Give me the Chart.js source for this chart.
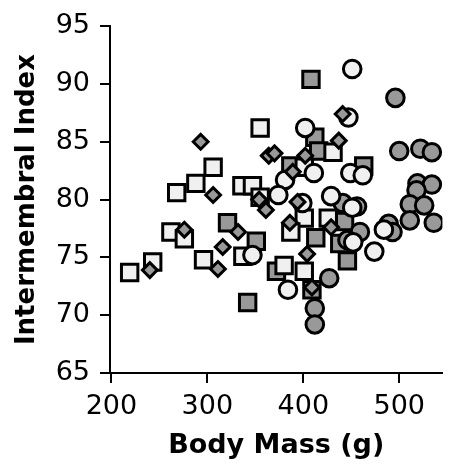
<!DOCTYPE html>
<html>
<head>
<meta charset="utf-8">
<style>
  html, body { margin: 0; padding: 0; background: #fff; }
</style>
</head>
<body>
<canvas id="myChart" width="457" height="468"></canvas>
<script src="https://cdn.jsdelivr.net/npm/chart.js@4"></script>
<script>
// tick labels
const xTicks = [200, 300, 400, 500];
const yTicks = [65, 70, 75, 80, 85, 90, 95];

// light squares
const lightSquareX = [219, 243, 262, 276, 296, 268, 288, 306, 336, 347, 355, 355, 337, 380, 401, 401, 387, 426, 431, 401];
const lightSquareY = [73.7, 74.6, 77.2, 76.6, 74.8, 80.6, 81.4, 82.8, 81.2, 81.2, 86.2, 80.2, 75.1, 74.3, 73.8, 78.4, 77.2, 78.4, 84.1, 82.8];

// dark squares
const darkSquareX = [408, 412, 416, 387, 321, 351, 342, 413, 409, 446, 438, 443, 463, 372];
const darkSquareY = [90.4, 85.4, 84.2, 82.9, 78.0, 76.4, 71.1, 76.7, 72.2, 74.7, 76.2, 78.1, 82.9, 73.8];

// dark diamonds
const diamondX = [293, 306, 240, 276, 311, 316, 332, 361, 354, 386, 404, 409, 364, 370, 402, 389, 394, 441, 437, 429];
const diamondY = [85.0, 80.4, 73.9, 77.4, 74.0, 75.9, 77.2, 79.1, 80.0, 78.0, 75.3, 72.4, 83.8, 84.0, 83.8, 82.4, 79.8, 87.4, 85.1, 77.6];

// light circles
const lightCircleX = [451, 447, 402, 411, 381, 374, 399, 429, 449, 462, 451, 452, 474, 484, 384, 347];
const lightCircleY = [91.3, 87.1, 86.2, 82.3, 81.7, 80.4, 79.7, 80.3, 82.3, 82.1, 79.3, 76.3, 75.5, 77.4, 72.2, 75.2];

// dark circles
const darkCircleX = [496, 500, 522, 534, 519, 534, 518, 511, 526, 511, 536, 489, 493, 459, 446, 441, 456, 427, 412, 412];
const darkCircleY = [88.8, 84.2, 84.4, 84.1, 81.4, 81.3, 80.8, 79.6, 79.5, 78.2, 78.0, 77.9, 77.2, 77.2, 76.5, 79.7, 79.4, 73.2, 70.6, 69.2];

const LIGHT = "#f0f0f0";
const DARK = "#999999";

function puntos(xs, ys) {
  return xs.map((x, i) => ({ x: x, y: ys[i] }));
}

function serie(xs, ys, estilo, relleno, radio) {
  return {
    data: puntos(xs, ys),
    pointStyle: estilo,
    pointRadius: radio,
    backgroundColor: relleno,
    borderColor: "#000",
    borderWidth: 3,
    showLine: false,
  };
}

const fuenteTicks = { family: "DejaVu Sans", size: 27 };
const ctx = document.getElementById("myChart");

// first dataset is drawn on top
const myChart = new Chart(ctx, {
  type: "scatter",
  data: {
    datasets: [
      serie(diamondX, diamondY, "rectRot", DARK, 7.4),
      serie(lightCircleX, lightCircleY, "circle", LIGHT, 8.8),
      serie(darkCircleX, darkCircleY, "circle", DARK, 8.8),
      serie(lightSquareX, lightSquareY, "rect", LIGHT, 11.6),
      serie(darkSquareX, darkSquareY, "rect", DARK, 11.6),
    ],
  },
  options: {
    responsive: false,
    animation: false,
    events: [],
    layout: { padding: { top: 20, right: 1, bottom: 0, left: 0 } },
    plugins: { legend: { display: false }, tooltip: { enabled: false } },
    scales: {
      x: {
        type: "linear",
        min: 198.5,
        max: 545,
        afterBuildTicks: (s) => { s.ticks = xTicks.map((v) => ({ value: v })); },
        afterFit: (s) => { s.height = 95; },
        grid: { drawOnChartArea: false, drawTicks: true, tickLength: 10, color: "#000", lineWidth: 2 },
        border: { display: true, color: "#000", width: 2 },
        ticks: { color: "#000", padding: 8, font: fuenteTicks },
        title: {
          display: true,
          text: "Body Mass (g)",
          color: "#000",
          font: { family: "DejaVu Sans", size: 27, weight: "bold" },
          padding: { top: 0, bottom: 6 },
        },
      },
      y: {
        type: "linear",
        min: 65,
        max: 95,
        afterBuildTicks: (s) => { s.ticks = yTicks.map((v) => ({ value: v })); },
        afterFit: (s) => { s.width = 110; },
        grid: { drawOnChartArea: false, drawTicks: true, tickLength: 10, color: "#000", lineWidth: 2 },
        border: { display: true, color: "#000", width: 2 },
        ticks: { color: "#000", padding: 10, font: fuenteTicks },
        title: {
          display: true,
          text: "Intermembral Index",
          color: "#000",
          font: { family: "DejaVu Sans", size: 26, weight: "bold" },
          padding: { top: 12, bottom: 0 },
        },
      },
    },
  },
});
</script>
</body>
</html>
